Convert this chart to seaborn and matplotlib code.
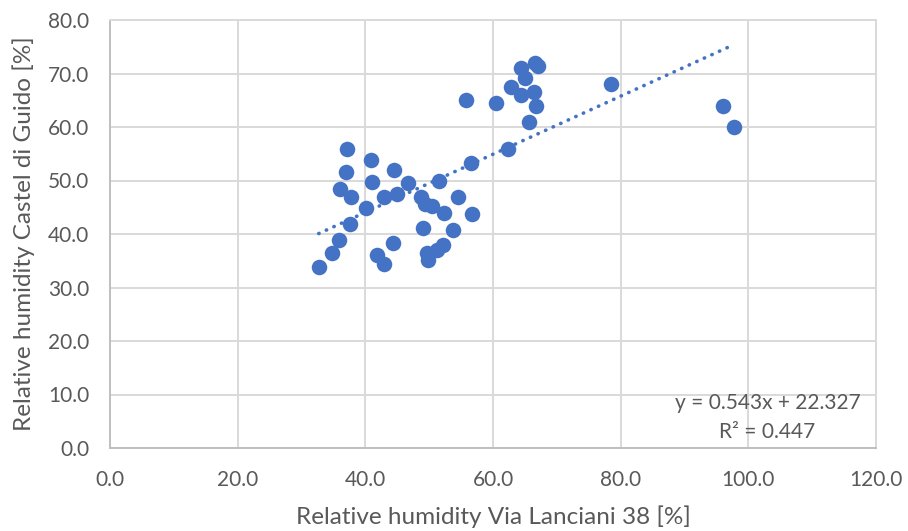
import numpy as np
import pandas as pd
import matplotlib
matplotlib.use("Agg")
import matplotlib.pyplot as plt
import seaborn as sns

# Data
via_lanciani = [32.7, 34.8, 35.9, 36.0, 36.9, 37.1, 37.7, 37.6, 40.1, 40.9,
                41.1, 41.9, 43.0, 43.0, 44.3, 44.5, 45.0, 46.7, 48.7, 49.0,
                49.3, 50.4, 49.7, 49.8, 51.2, 52.1, 51.5, 52.3, 53.7, 54.5,
                56.7, 56.6, 55.8, 60.4, 62.4, 62.8, 64.4, 64.4, 65.0, 65.6,
                66.5, 66.6, 67.1, 66.8, 78.5, 96.0, 97.7]
castel_di_guido = [33.9, 36.5, 38.9, 48.4, 51.5, 55.9, 46.9, 41.9, 44.8, 53.8,
                   49.8, 36.0, 34.3, 46.9, 38.3, 52.0, 47.4, 49.5, 47.0, 41.1,
                   45.7, 45.3, 36.5, 35.2, 37.0, 37.9, 49.9, 44.0, 40.7, 46.9,
                   43.8, 53.2, 65.0, 64.5, 55.8, 67.4, 71.0, 66.0, 69.1, 61.0,
                   66.5, 71.9, 71.4, 64.0, 68.1, 64.0, 60.0]
slope = 0.543
intercept = 22.327
r_squared = 0.447
x_ticks = [0, 20, 40, 60, 80, 100, 120]
y_ticks = [0, 10, 20, 30, 40, 50, 60, 70, 80]

df = pd.DataFrame({"x": via_lanciani, "y": castel_di_guido})

sns.set_theme(style="white")
plt.rcParams["font.family"] = ["Lato", "DejaVu Sans"]

blue = "#4472C4"
grey_txt = "#595959"
grid_c = "#D9D9D9"

fig = plt.figure(figsize=(9.08, 5.31), dpi=100)
ax = fig.add_axes([110/908, 1-448/531, (876-110)/908, (448-20)/531])

sns.scatterplot(data=df, x="x", y="y", ax=ax, s=125, color=blue,
                edgecolor=blue, linewidth=0, zorder=3)

xs = np.array([min(via_lanciani), max(via_lanciani)])
ax.plot(xs, slope*xs + intercept, linestyle=(0, (0.1, 2.2)), dash_capstyle="round",
        color=blue, linewidth=2.6, zorder=2)

ax.set_xlim(0, 120)
ax.set_ylim(0, 80)
ax.set_xticks(x_ticks)
ax.set_yticks(y_ticks)
ax.set_xticklabels([f"{v:.1f}" for v in x_ticks])
ax.set_yticklabels([f"{v:.1f}" for v in y_ticks])
ax.tick_params(axis="both", length=0, labelsize=15, colors=grey_txt)
ax.tick_params(axis="y", pad=15)
ax.tick_params(axis="x", pad=16)

ax.grid(True, color=grid_c, linewidth=1.4, zorder=0)
ax.set_axisbelow(True)
for side, sp in ax.spines.items():
    sp.set_color(grid_c if side in ("top", "right") else "#BFBFBF")
    sp.set_linewidth(1.4)

ax.set_xlabel("Relative humidity Via Lanciani 38 [%]", fontsize=17.5, color=grey_txt, labelpad=11)
ax.set_ylabel("Relative humidity Castel di Guido [%]", fontsize=17.5, color=grey_txt, labelpad=9)

ax.text(103, 8.4, f"y = {slope}x + {intercept}", ha="center", va="center",
        fontsize=15, color=grey_txt)
ax.text(103, 3.0, f"R² = {r_squared}", ha="center", va="center",
        fontsize=15, color=grey_txt)

fig.savefig("out.png", dpi=100, facecolor="white")
